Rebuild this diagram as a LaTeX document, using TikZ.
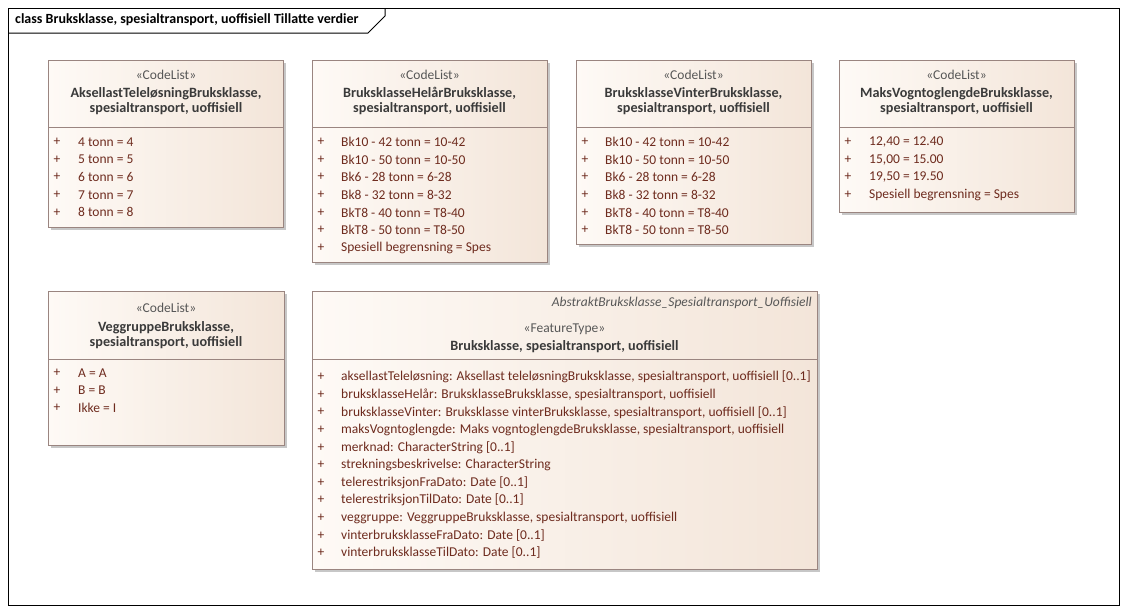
\documentclass[tikz,border=0pt]{standalone}
\usepackage{fontspec}
\setmainfont{Carlito}
\usetikzlibrary{shadows}

\definecolor{boxline}{HTML}{9A8580}
\definecolor{fillleft}{HTML}{FEFAF6}
\definecolor{fillright}{HTML}{F3E5D9}
\definecolor{itemtext}{HTML}{6E2B1E}
\definecolor{headtext}{HTML}{3A3A3A}

\tikzset{
  umlbox/.style={draw=boxline, line width=1pt, left color=fillleft, right color=fillright,
    anchor=north west, inner sep=0pt, outer sep=0pt,
    drop shadow={shadow xshift=3pt, shadow yshift=-3pt, fill=black!22, opacity=1}},
  stereo/.style={text=headtext!85, font=\fontsize{13.5}{15}\selectfont, inner sep=0pt},
  cname/.style={text=headtext, font=\fontsize{14.2}{15.5}\selectfont\bfseries, inner sep=0pt, align=center},
  plus/.style={text=itemtext, font=\fontsize{13.5}{15}\selectfont, inner sep=0pt},
  item/.style={text=itemtext, font=\fontsize{13.5}{15}\selectfont, inner sep=0pt, anchor=west},
}

\begin{document}
\begin{tikzpicture}[x=1pt, y=-1pt]
	\useasboundingbox (0,0) rectangle (1127,614);
	
	% frame
	\draw[line width=1pt] (8,8) rectangle (1119,605);
	\draw[line width=1pt] (8,33) -- (368,33) -- (385,16) -- (385,8);
	\node[anchor=west, inner sep=0pt, font=\fontsize{14}{16}\selectfont\bfseries] (title) at (15,20) {class Bruksklasse, spesialtransport, uoffisiell Tillatte verdier};
	
	% aksellast
	\node[umlbox, minimum width=235pt, minimum height=167pt] (aksel) at (48,60) {};
	\node[stereo] (akselst) at (166,75) {«CodeList»};
	\node[cname] (akselname) at (166,101) {AksellastTeleløsningBruksklasse,\\[-1pt]spesialtransport, uoffisiell};
	\draw[boxline, line width=1pt] (48,127) -- (283,127);
	\foreach \t [count=\i] in {4 tonn = 4, 5 tonn = 5, 6 tonn = 6, 7 tonn = 7, 8 tonn = 8}
	{
		\node[plus] at (57,124.4+\i*17.6) {+};
		\node[item] at (78,124.4+\i*17.6) {\t};
	}
	
	% helaar
	\node[umlbox, minimum width=235pt, minimum height=202pt] (helar) at (312,60) {};
	\node[stereo] (helarst) at (429.5,75) {«CodeList»};
	\node[cname] (helarname) at (429.5,101) {BruksklasseHelårBruksklasse,\\[-1pt]spesialtransport, uoffisiell};
	\draw[boxline, line width=1pt] (312,127) -- (547,127);
	\foreach \t [count=\i] in {Bk10 - 42 tonn = 10-42, Bk10 - 50 tonn = 10-50, Bk6 - 28 tonn = 6-28, Bk8 - 32 tonn = 8-32, BkT8 - 40 tonn = T8-40, BkT8 - 50 tonn = T8-50, Spesiell begrensning = Spes}
	{
		\node[plus] at (321,124.4+\i*17.6) {+};
		\node[item] at (341,124.4+\i*17.6) {\t};
	}
	
	% vinter
	\node[umlbox, minimum width=235pt, minimum height=184pt] (vinter) at (576,60) {};
	\node[stereo] (vinterst) at (693.5,75) {«CodeList»};
	\node[cname] (vintername) at (693.5,101) {BruksklasseVinterBruksklasse,\\[-1pt]spesialtransport, uoffisiell};
	\draw[boxline, line width=1pt] (576,127) -- (811,127);
	\foreach \t [count=\i] in {Bk10 - 42 tonn = 10-42, Bk10 - 50 tonn = 10-50, Bk6 - 28 tonn = 6-28, Bk8 - 32 tonn = 8-32, BkT8 - 40 tonn = T8-40, BkT8 - 50 tonn = T8-50}
	{
		\node[plus] at (585,124.4+\i*17.6) {+};
		\node[item] at (605,124.4+\i*17.6) {\t};
	}
	
	% maks vogntoglengde
	\node[umlbox, minimum width=235pt, minimum height=152pt] (maks) at (839,60) {};
	\node[stereo] (maksst) at (956.5,75) {«CodeList»};
	\node[cname] (maksname) at (956.5,101) {MaksVogntoglengdeBruksklasse,\\[-1pt]spesialtransport, uoffisiell};
	\draw[boxline, line width=1pt] (839,127) -- (1074,127);
	\foreach \t [count=\i] in {{12,40 = 12.40}, {15,00 = 15.00}, {19,50 = 19.50}, Spesiell begrensning = Spes}
	{
		\node[plus] at (848,124.4+\i*17.6) {+};
		\node[item] at (869,124.4+\i*17.6) {\t};
	}
	
	% veggruppe
	\node[umlbox, minimum width=236pt, minimum height=154pt] (vegg) at (48,291) {};
	\node[stereo] (veggst) at (166,308) {«CodeList»};
	\node[cname] (veggname) at (166,335) {VeggruppeBruksklasse,\\[-1pt]spesialtransport, uoffisiell};
	\draw[boxline, line width=1pt] (48,359) -- (284,359);
	\foreach \t [count=\i] in {A = A, B = B, Ikke = I}
	{
		\node[plus] at (57,355.4+\i*17.6) {+};
		\node[item] at (78,355.4+\i*17.6) {\t};
	}
	
	% bruksklasse
	\node[umlbox, minimum width=505pt, minimum height=278pt] (bruk) at (312,291) {};
	\node[stereo, anchor=east, font=\fontsize{13.5}{15}\selectfont\itshape] (abstr) at (812,303) {AbstraktBruksklasse\_Spesialtransport\_Uoffisiell};
	\node[stereo] (brukst) at (564.5,329) {«FeatureType»};
	\node[cname] (brukname) at (564.5,347) {Bruksklasse, spesialtransport, uoffisiell};
	\draw[boxline, line width=1pt] (312,359) -- (817,359);
	\foreach \t [count=\i] in {{aksellastTeleløsning: Aksellast teleløsningBruksklasse, spesialtransport, uoffisiell [0..1]},
		{bruksklasseHelår: BruksklasseBruksklasse, spesialtransport, uoffisiell},
		{bruksklasseVinter: Bruksklasse vinterBruksklasse, spesialtransport, uoffisiell [0..1]},
		{maksVogntoglengde: Maks vogntoglengdeBruksklasse, spesialtransport, uoffisiell},
		{merknad: CharacterString [0..1]},
		{strekningsbeskrivelse: CharacterString},
		{telerestriksjonFraDato: Date [0..1]},
		{telerestriksjonTilDato: Date [0..1]},
		{veggruppe: VeggruppeBruksklasse, spesialtransport, uoffisiell},
		{vinterbruksklasseFraDato: Date [0..1]},
		{vinterbruksklasseTilDato: Date [0..1]}}
	{
		\node[plus] at (321,359.4+\i*17.6) {+};
		\node[item] at (341,359.4+\i*17.6) {\t};
	}
	
\end{tikzpicture}
\end{document}
